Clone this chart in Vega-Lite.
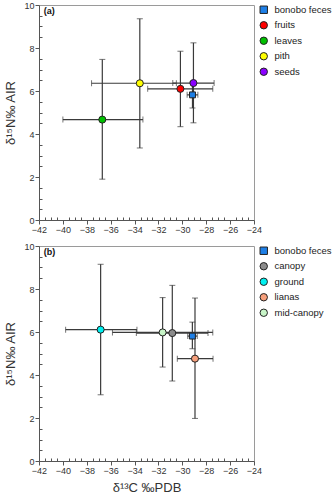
{
  "$schema": "https://vega.github.io/schema/vega-lite/v6.json",
  "background": "white",
  "padding": {"left": 4, "top": 0, "right": 2, "bottom": 2},
  "spacing": 6,
  "config": {
    "font": "Liberation Sans",
    "view": {"stroke": "#9a9a9a", "strokeWidth": 1},
    "axis": {
      "grid": false,
      "domainColor": "#555",
      "labelFont": "Liberation Sans",
      "labelFontSize": 9,
      "labelColor": "#333",
      "labelOverlap": false,
      "tickColor": "#555",
      "titleFont": "Liberation Sans",
      "titleFontWeight": "normal",
      "titleFontSize": 13,
      "titleColor": "#333"
    },
    "legend": {
      "title": null,
      "labelFont": "Liberation Sans",
      "labelFontSize": 9.5,
      "labelColor": "#222",
      "symbolStrokeColor": "#222",
      "symbolStrokeWidth": 1,
      "symbolSize": 55,
      "rowPadding": 3.5,
      "offset": 5,
      "padding": 0,
      "labelOffset": 6
    }
  },
  "datasets": {
    "a": [
      {"group": "bonobo feces", "x": -29.15, "xlo": -29.6, "xhi": -28.7, "y": 5.82, "ylo": 5.21, "yhi": 6.43},
      {"group": "fruits", "x": -30.16, "xlo": -32.9, "xhi": -27.45, "y": 6.1, "ylo": 4.34, "yhi": 7.85},
      {"group": "leaves", "x": -36.7, "xlo": -40.0, "xhi": -33.3, "y": 4.67, "ylo": 1.9, "yhi": 7.47},
      {"group": "pith", "x": -33.56, "xlo": -37.6, "xhi": -30.5, "y": 6.36, "ylo": 3.35, "yhi": 9.36},
      {"group": "seeds", "x": -29.07, "xlo": -30.8, "xhi": -27.34, "y": 6.37, "ylo": 4.52, "yhi": 8.24}
    ],
    "b": [
      {"group": "bonobo feces", "x": -29.16, "xlo": -29.55, "xhi": -28.75, "y": 5.81, "ylo": 5.22, "yhi": 6.46},
      {"group": "canopy", "x": -30.84, "xlo": -33.85, "xhi": -27.85, "y": 5.95, "ylo": 3.72, "yhi": 8.17},
      {"group": "ground", "x": -36.84, "xlo": -39.77, "xhi": -33.8, "y": 6.11, "ylo": 3.08, "yhi": 9.15},
      {"group": "lianas", "x": -28.94, "xlo": -30.42, "xhi": -27.43, "y": 4.76, "ylo": 1.98, "yhi": 7.58},
      {"group": "mid-canopy", "x": -31.65, "xlo": -35.85, "xhi": -27.45, "y": 5.98, "ylo": 4.37, "yhi": 7.6}
    ],
    "labA": [{"label": "(a)", "x": -41.6, "y": 9.7}],
    "labB": [{"label": "(b)", "x": -41.6, "y": 9.7}]
  },
  "vconcat": [
    {
      "width": 215,
      "height": 215,
      "data": {"name": "a"},
      "resolve": {"axis": {"x": "independent", "y": "independent"}},
      "layer": [
        {
          "mark": {"type": "errorbar", "ticks": {"size": 6, "color": "#3a3a3a", "strokeWidth": 1.2}, "rule": {"color": "#3a3a3a", "strokeWidth": 1.2}},
          "encoding": {
            "x": {"field": "xlo", "type": "quantitative", "scale": {"domain": [-42, -24], "nice": false},
              "axis": {"title": null, "orient": "bottom", "values": [-42,-40,-38,-36,-34,-32,-30,-28,-26,-24], "tickSize": 4, "labelPadding": 1, "labelFlush": false}},
            "x2": {"field": "xhi"},
            "y": {"field": "y", "type": "quantitative", "axis": null}
          }
        },
        {
          "mark": {"type": "errorbar", "ticks": {"size": 6, "color": "#3a3a3a", "strokeWidth": 1.2}, "rule": {"color": "#3a3a3a", "strokeWidth": 1.2}},
          "encoding": {
            "y": {"field": "ylo", "type": "quantitative", "scale": {"domain": [0, 10], "nice": false},
              "axis": {"title": "δ¹⁵N‰ AIR", "orient": "left", "titlePadding": 6, "values": [0,2,4,6,8,10], "tickSize": 4, "labelPadding": 1, "labelFlush": false}},
            "y2": {"field": "yhi"},
            "x": {"field": "x", "type": "quantitative", "axis": null}
          }
        },
        {
          "mark": {"type": "point", "filled": true, "stroke": "#222", "strokeWidth": 1, "opacity": 1},
          "encoding": {
            "x": {"field": "x", "type": "quantitative", "axis": null},
            "y": {"field": "y", "type": "quantitative", "axis": null},
            "color": {"field": "group", "type": "nominal",
              "scale": {"domain": ["bonobo feces", "fruits", "leaves", "pith", "seeds"], "range": ["#1e7fe6", "#ff0000", "#00c000", "#ffff00", "#8a00ff"]},
              "legend": {"orient": "right"}},
            "shape": {"field": "group", "type": "nominal",
              "scale": {"domain": ["bonobo feces", "fruits", "leaves", "pith", "seeds"], "range": ["square", "circle", "circle", "circle", "circle"]}},
            "size": {"condition": {"test": "datum.group === 'bonobo feces'", "value": 35}, "value": 50}
          }
        },
        {
          "data": {"name": "labA"},
          "mark": {"type": "text", "align": "left", "baseline": "middle", "fontWeight": "bold", "fontSize": 9, "color": "#111"},
          "encoding": {
            "x": {"field": "x", "type": "quantitative",
              "axis": {"title": null, "orient": "bottom", "labels": false, "domain": false, "tickSize": -3, "values": [-41.5,-41,-40.5,-39.5,-39,-38.5,-37.5,-37,-36.5,-35.5,-35,-34.5,-33.5,-33,-32.5,-31.5,-31,-30.5,-29.5,-29,-28.5,-27.5,-27,-26.5,-25.5,-25,-24.5]}},
            "y": {"field": "y", "type": "quantitative",
              "axis": {"title": null, "orient": "left", "labels": false, "domain": false, "tickSize": -3, "values": [0.5,1,1.5,2.5,3,3.5,4.5,5,5.5,6.5,7,7.5,8.5,9,9.5]}},
            "text": {"field": "label"}
          }
        }
      ]
    },
    {
      "width": 215,
      "height": 215,
      "data": {"name": "b"},
      "resolve": {"axis": {"x": "independent", "y": "independent"}},
      "layer": [
        {
          "mark": {"type": "errorbar", "ticks": {"size": 6, "color": "#3a3a3a", "strokeWidth": 1.2}, "rule": {"color": "#3a3a3a", "strokeWidth": 1.2}},
          "encoding": {
            "x": {"field": "xlo", "type": "quantitative", "scale": {"domain": [-42, -24], "nice": false},
              "axis": {"title": "δ¹³C ‰PDB", "orient": "bottom", "titlePadding": 6, "values": [-42,-40,-38,-36,-34,-32,-30,-28,-26,-24], "tickSize": 4, "labelPadding": 1, "labelFlush": false}},
            "x2": {"field": "xhi"},
            "y": {"field": "y", "type": "quantitative", "axis": null}
          }
        },
        {
          "mark": {"type": "errorbar", "ticks": {"size": 6, "color": "#3a3a3a", "strokeWidth": 1.2}, "rule": {"color": "#3a3a3a", "strokeWidth": 1.2}},
          "encoding": {
            "y": {"field": "ylo", "type": "quantitative", "scale": {"domain": [0, 10], "nice": false},
              "axis": {"title": "δ¹⁵N‰ AIR", "orient": "left", "titlePadding": 6, "values": [0,2,4,6,8,10], "tickSize": 4, "labelPadding": 1, "labelFlush": false}},
            "y2": {"field": "yhi"},
            "x": {"field": "x", "type": "quantitative", "axis": null}
          }
        },
        {
          "mark": {"type": "point", "filled": true, "stroke": "#222", "strokeWidth": 1, "opacity": 1},
          "encoding": {
            "x": {"field": "x", "type": "quantitative", "axis": null},
            "y": {"field": "y", "type": "quantitative", "axis": null},
            "color": {"field": "group", "type": "nominal",
              "scale": {"domain": ["bonobo feces", "canopy", "ground", "lianas", "mid-canopy"], "range": ["#1e7fe6", "#8c8c8c", "#00f0f0", "#f7a07c", "#c8f5c8"]},
              "legend": {"orient": "right"}},
            "shape": {"field": "group", "type": "nominal",
              "scale": {"domain": ["bonobo feces", "canopy", "ground", "lianas", "mid-canopy"], "range": ["square", "circle", "circle", "circle", "circle"]}},
            "size": {"condition": {"test": "datum.group === 'bonobo feces'", "value": 35}, "value": 50}
          }
        },
        {
          "data": {"name": "labB"},
          "mark": {"type": "text", "align": "left", "baseline": "middle", "fontWeight": "bold", "fontSize": 9, "color": "#111"},
          "encoding": {
            "x": {"field": "x", "type": "quantitative",
              "axis": {"title": null, "orient": "bottom", "labels": false, "domain": false, "tickSize": -3, "values": [-41.5,-41,-40.5,-39.5,-39,-38.5,-37.5,-37,-36.5,-35.5,-35,-34.5,-33.5,-33,-32.5,-31.5,-31,-30.5,-29.5,-29,-28.5,-27.5,-27,-26.5,-25.5,-25,-24.5]}},
            "y": {"field": "y", "type": "quantitative",
              "axis": {"title": null, "orient": "left", "labels": false, "domain": false, "tickSize": -3, "values": [0.5,1,1.5,2.5,3,3.5,4.5,5,5.5,6.5,7,7.5,8.5,9,9.5]}},
            "text": {"field": "label"}
          }
        }
      ]
    }
  ],
  "resolve": {"scale": {"color": "independent", "shape": "independent", "size": "independent"}, "legend": {"color": "independent", "shape": "independent", "size": "independent"}}
}
